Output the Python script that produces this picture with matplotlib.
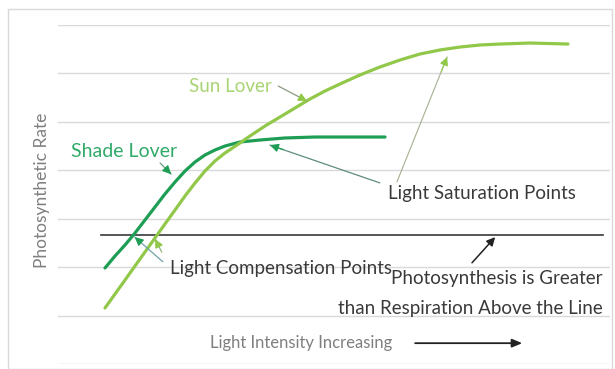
"""Light response curves for sun and shade plants."""

import matplotlib

matplotlib.use("Agg")
import matplotlib.pyplot as plt
from matplotlib.patches import Rectangle

# curve readings (x: light intensity 0-100, y: photosynthetic rate 0-7)
shade_x = [8.51, 10.33, 12.14, 13.95, 15.76, 17.57, 19.38, 21.20, 23.01, 24.82, 26.63,
           28.44, 30.25, 32.97, 36.59, 41.12, 46.56, 52.90, 59.24]
shade_y = [1.982, 2.230, 2.457, 2.705, 2.973, 3.242, 3.510, 3.758, 3.985, 4.171, 4.316,
           4.419, 4.501, 4.584, 4.625, 4.667, 4.687, 4.687, 4.687]
sun_x = [8.51, 10.33, 12.14, 13.95, 15.76, 17.57, 19.38, 21.20, 23.01, 24.82, 26.63,
         28.44, 30.25, 32.43, 34.78, 37.50, 40.22, 42.93, 45.65, 48.37, 51.09, 54.71,
         58.33, 61.96, 65.58, 69.20, 72.83, 76.45, 80.07, 85.51, 92.39]
sun_y = [1.156, 1.445, 1.734, 2.024, 2.313, 2.602, 2.891, 3.180, 3.469, 3.737, 3.985,
         4.192, 4.357, 4.522, 4.708, 4.914, 5.100, 5.286, 5.472, 5.637, 5.782, 5.968,
         6.133, 6.277, 6.401, 6.484, 6.545, 6.587, 6.607, 6.628, 6.607]
comp_line_x = [7.8, 98.7]
comp_line_y = [2.66, 2.66]

SHADE = "#1E9E55"
SUN = "#92C84A"
SHADE_TXT = "#2FAA68"
SUN_TXT = "#A9D474"
TEXT = "#3A3A3A"
GREY = "#7F7F7F"

plt.rcParams["font.family"] = ["Lato", "DejaVu Sans"]

fig = plt.figure(figsize=(6.15, 3.69), dpi=100)
ax = fig.add_axes([58 / 615, 5 / 369, 552 / 615, 339 / 369])
ax.set_xlim(0, 100)
ax.set_ylim(0, 7)
ax.set_yticks(range(8))
ax.set_xticks([])
ax.tick_params(left=False, labelleft=False)
ax.grid(axis="y", color="#D9D9D9", linewidth=1.0)
for s in ax.spines.values():
    s.set_visible(False)

ax.plot(comp_line_x, comp_line_y, color="#3A3A3A", linewidth=1.2, zorder=2)
ax.plot(shade_x, shade_y, color=SHADE, linewidth=2.3, solid_capstyle="round",
        solid_joinstyle="round", zorder=3)
ax.plot(sun_x, sun_y, color=SUN, linewidth=2.3, solid_capstyle="round",
        solid_joinstyle="round", zorder=3)


def arrow(start, end, line_color, head_color, lw=0.9):
    ax.annotate("", xy=end, xytext=start,
                arrowprops=dict(arrowstyle="-", color=line_color, lw=lw,
                                shrinkA=0, shrinkB=0), zorder=4)
    ax.annotate("", xy=end, xytext=(end[0] + (start[0] - end[0]) * 0.12,
                                    end[1] + (start[1] - end[1]) * 0.12),
                arrowprops=dict(arrowstyle="-|>,head_length=0.5,head_width=0.25",
                                color=head_color, lw=lw, shrinkA=0, shrinkB=0),
                zorder=5)


# labels
ax.text(31.3, 5.72, "Sun Lover", color=SUN_TXT, fontsize=13.5, ha="center", va="center")
arrow((39.9, 5.74), (45.1, 5.43), "#8A9A80", SUN)
ax.text(12.0, 4.38, "Shade Lover", color=SHADE_TXT, fontsize=14, ha="center", va="center")
arrow((18.5, 4.15), (20.5, 3.92), "#6A9A80", SHADE)

ax.text(59.8, 3.53, "Light Saturation Points", color=TEXT, fontsize=13.5, ha="left",
        va="center")
arrow((58.3, 3.74), (38.4, 4.52), "#5E8C7E", SHADE)
arrow((61.4, 3.76), (70.5, 6.34), "#A3B090", SUN, lw=0.8)

ax.text(20.3, 1.98, "Light Compensation Points", color=TEXT, fontsize=13.5, ha="left",
        va="center")
arrow((19.0, 2.11), (13.9, 2.62), "#6FA4A8", SHADE)
arrow((18.8, 2.31), (17.6, 2.58), "#8FB878", SUN)

ax.text(98.7, 1.76, "Photosynthesis is Greater", color=TEXT, fontsize=13.5, ha="right",
        va="center")
ax.text(98.7, 1.14, "than Respiration Above the Line", color=TEXT, fontsize=13.5,
        ha="right", va="center")
ax.annotate("", xy=(79.2, 2.62), xytext=(75.0, 2.09),
            arrowprops=dict(arrowstyle="-|>,head_length=0.5,head_width=0.25", color="#222222",
                            lw=1.1, shrinkA=0, shrinkB=0))

ax.text(27.5, 0.43, "Light Intensity Increasing", color=GREY, fontsize=12, ha="left",
        va="center")
ax.annotate("", xy=(84.1, 0.43), xytext=(64.7, 0.43),
            arrowprops=dict(arrowstyle="-|>,head_length=0.6,head_width=0.25", color="#222222",
                            lw=1.3, shrinkA=0, shrinkB=0))

fig.text(42 / 615, 1 - 190 / 369, "Photosynthetic Rate", rotation=90, color=GREY,
         fontsize=12.5, ha="center", va="center")

fig.patches.append(Rectangle((8 / 615, 0), 604 / 615, 1 - 9 / 369, transform=fig.transFigure,
                             fill=False, edgecolor="#D9D9D9", linewidth=1.0))

fig.savefig("out.png", dpi=100)
